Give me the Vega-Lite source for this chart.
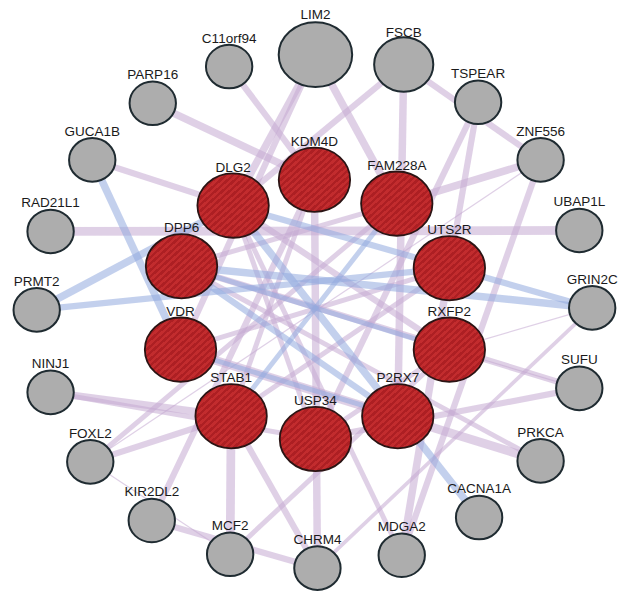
{
  "$schema": "https://vega.github.io/schema/vega-lite/v6.json",
  "width": 620,
  "height": 594,
  "padding": 0,
  "autosize": {"type": "fit", "contains": "padding"},
  "background": "white",
  "config": {"view": {"stroke": null}},
  "datasets": {
    "nodes": [
      {"id": "LIM2", "x": 318, "y": 55, "kind": "top"},
      {"id": "C11orf94", "x": 231, "y": 67, "kind": "related"},
      {"id": "FSCB", "x": 407, "y": 65, "kind": "high"},
      {"id": "PARP16", "x": 154, "y": 104, "kind": "related"},
      {"id": "TSPEAR", "x": 482, "y": 103, "kind": "related"},
      {"id": "GUCA1B", "x": 93, "y": 161, "kind": "related"},
      {"id": "ZNF556", "x": 545, "y": 161, "kind": "related"},
      {"id": "RAD21L1", "x": 51, "y": 233, "kind": "related"},
      {"id": "UBAP1L", "x": 584, "y": 232, "kind": "related"},
      {"id": "PRMT2", "x": 37, "y": 312, "kind": "related"},
      {"id": "GRIN2C", "x": 597, "y": 310, "kind": "related"},
      {"id": "NINJ1", "x": 51, "y": 395, "kind": "related"},
      {"id": "SUFU", "x": 584, "y": 391, "kind": "related"},
      {"id": "FOXL2", "x": 91, "y": 465, "kind": "related"},
      {"id": "PRKCA", "x": 545, "y": 464, "kind": "related"},
      {"id": "KIR2DL2", "x": 153, "y": 524, "kind": "related"},
      {"id": "CACNA1A", "x": 483, "y": 521, "kind": "related"},
      {"id": "MCF2", "x": 232, "y": 558, "kind": "related"},
      {"id": "CHRM4", "x": 320, "y": 572, "kind": "related"},
      {"id": "MDGA2", "x": 405, "y": 559, "kind": "related"},
      {"id": "KDM4D", "x": 317, "y": 181, "kind": "query"},
      {"id": "DLG2", "x": 235, "y": 207, "kind": "query"},
      {"id": "FAM228A", "x": 400, "y": 205, "kind": "query"},
      {"id": "DPP6", "x": 183, "y": 268, "kind": "query"},
      {"id": "UTS2R", "x": 453, "y": 270, "kind": "query"},
      {"id": "VDR", "x": 182, "y": 352, "kind": "query"},
      {"id": "RXFP2", "x": 453, "y": 352, "kind": "query"},
      {"id": "STAB1", "x": 233, "y": 419, "kind": "query"},
      {"id": "P2RX7", "x": 401, "y": 419, "kind": "query"},
      {"id": "USP34", "x": 318, "y": 442, "kind": "query"}
    ],
    "edges": [
      {"source": "LIM2", "target": "DLG2", "type": "Co-expression", "weight": 6},
      {"source": "LIM2", "target": "VDR", "type": "Co-expression", "weight": 5},
      {"source": "LIM2", "target": "FAM228A", "type": "Co-expression", "weight": 6},
      {"source": "C11orf94", "target": "KDM4D", "type": "Co-expression", "weight": 5},
      {"source": "PARP16", "target": "KDM4D", "type": "Co-expression", "weight": 6},
      {"source": "GUCA1B", "target": "DLG2", "type": "Co-expression", "weight": 5},
      {"source": "RAD21L1", "target": "UBAP1L", "type": "Co-expression", "weight": 7},
      {"source": "FSCB", "target": "DLG2", "type": "Co-expression", "weight": 5},
      {"source": "FSCB", "target": "P2RX7", "type": "Co-expression", "weight": 6},
      {"source": "FSCB", "target": "ZNF556", "type": "Co-expression", "weight": 5},
      {"source": "TSPEAR", "target": "USP34", "type": "Co-expression", "weight": 5},
      {"source": "TSPEAR", "target": "UTS2R", "type": "Co-expression", "weight": 5},
      {"source": "ZNF556", "target": "FAM228A", "type": "Co-expression", "weight": 6},
      {"source": "ZNF556", "target": "MDGA2", "type": "Co-expression", "weight": 5},
      {"source": "NINJ1", "target": "STAB1", "type": "Co-expression", "weight": 6},
      {"source": "NINJ1", "target": "USP34", "type": "Co-expression", "weight": 4},
      {"source": "FOXL2", "target": "STAB1", "type": "Co-expression", "weight": 5},
      {"source": "FOXL2", "target": "FAM228A", "type": "Co-expression", "weight": 4},
      {"source": "KIR2DL2", "target": "KDM4D", "type": "Co-expression", "weight": 5},
      {"source": "KIR2DL2", "target": "CHRM4", "type": "Co-expression", "weight": 5},
      {"source": "MCF2", "target": "STAB1", "type": "Co-expression", "weight": 7},
      {"source": "MCF2", "target": "RXFP2", "type": "Co-expression", "weight": 4},
      {"source": "STAB1", "target": "CHRM4", "type": "Co-expression", "weight": 5},
      {"source": "KDM4D", "target": "CHRM4", "type": "Co-expression", "weight": 6},
      {"source": "GRIN2C", "target": "CHRM4", "type": "Co-expression", "weight": 3},
      {"source": "SUFU", "target": "DPP6", "type": "Co-expression", "weight": 5},
      {"source": "SUFU", "target": "USP34", "type": "Co-expression", "weight": 5},
      {"source": "PRKCA", "target": "VDR", "type": "Co-expression", "weight": 7},
      {"source": "PRKCA", "target": "DPP6", "type": "Co-expression", "weight": 4},
      {"source": "MDGA2", "target": "UTS2R", "type": "Co-expression", "weight": 6},
      {"source": "MDGA2", "target": "DLG2", "type": "Co-expression", "weight": 4},
      {"source": "DLG2", "target": "RXFP2", "type": "Co-expression", "weight": 5},
      {"source": "VDR", "target": "UTS2R", "type": "Co-expression", "weight": 4},
      {"source": "KDM4D", "target": "STAB1", "type": "Co-expression", "weight": 4},
      {"source": "FAM228A", "target": "DPP6", "type": "Co-expression", "weight": 4},
      {"source": "UTS2R", "target": "STAB1", "type": "Co-expression", "weight": 4},
      {"source": "USP34", "target": "RXFP2", "type": "Co-expression", "weight": 4},
      {"source": "DLG2", "target": "USP34", "type": "Co-expression", "weight": 4},
      {"source": "ZNF556", "target": "FOXL2", "type": "Co-expression", "weight": 1},
      {"source": "FOXL2", "target": "MCF2", "type": "Co-expression", "weight": 1},
      {"source": "RXFP2", "target": "GRIN2C", "type": "Co-expression", "weight": 1},
      {"source": "RXFP2", "target": "SUFU", "type": "Co-expression", "weight": 1},
      {"source": "GUCA1B", "target": "VDR", "type": "Co-localization", "weight": 6},
      {"source": "PRMT2", "target": "DLG2", "type": "Co-localization", "weight": 6},
      {"source": "PRMT2", "target": "UTS2R", "type": "Co-localization", "weight": 5},
      {"source": "DPP6", "target": "GRIN2C", "type": "Co-localization", "weight": 6},
      {"source": "DLG2", "target": "GRIN2C", "type": "Co-localization", "weight": 5},
      {"source": "DLG2", "target": "CACNA1A", "type": "Co-localization", "weight": 6},
      {"source": "DPP6", "target": "RXFP2", "type": "Co-localization", "weight": 4},
      {"source": "FAM228A", "target": "STAB1", "type": "Co-localization", "weight": 4},
      {"source": "DPP6", "target": "P2RX7", "type": "Co-localization", "weight": 5},
      {"source": "VDR", "target": "P2RX7", "type": "Co-localization", "weight": 4}
    ]
  },
  "layer": [
    {
      "data": {"name": "edges"},
      "transform": [
        {"lookup": "source", "from": {"data": {"name": "nodes"}, "key": "id", "fields": ["x", "y"]}, "as": ["sx", "sy"]},
        {"lookup": "target", "from": {"data": {"name": "nodes"}, "key": "id", "fields": ["x", "y"]}, "as": ["tx", "ty"]}
      ],
      "mark": {"type": "rule", "opacity": 0.55, "strokeCap": "butt"},
      "encoding": {
        "x": {"field": "sx", "type": "quantitative", "scale": {"domain": [0, 620], "nice": false, "zero": false}, "axis": null},
        "y": {"field": "sy", "type": "quantitative", "scale": {"domain": [0, 594], "nice": false, "zero": false, "reverse": true}, "axis": null},
        "x2": {"field": "tx"},
        "y2": {"field": "ty"},
        "color": {"field": "type", "type": "nominal", "scale": {"domain": ["Co-expression", "Co-localization"], "range": ["#c5aad2", "#92aadf"]}, "legend": null},
        "strokeWidth": {"field": "weight", "type": "quantitative", "scale": {"domain": [1, 8], "range": [1.2, 10]}, "legend": null}
      }
    },
    {
      "data": {"name": "nodes"},
      "transform": [{"filter": "datum.kind == 'related'"}],
      "mark": {"type": "point", "shape": "M-1,0A1,0.94,0,1,1,1,0A1,0.94,0,1,1,-1,0Z", "size": 2150, "filled": true, "fill": "#adadad", "fillOpacity": 1, "stroke": "#1f2b31", "strokeWidth": 2, "opacity": 1},
      "encoding": {
        "x": {"field": "x", "type": "quantitative"},
        "y": {"field": "y", "type": "quantitative"}
      }
    },
    {
      "data": {"name": "nodes"},
      "transform": [{"filter": "datum.kind == 'top'"}],
      "mark": {"type": "point", "shape": "M-1,0A1,0.88,0,1,1,1,0A1,0.88,0,1,1,-1,0Z", "size": 5400, "filled": true, "fill": "#adadad", "fillOpacity": 1, "stroke": "#1f2b31", "strokeWidth": 2, "opacity": 1},
      "encoding": {
        "x": {"field": "x", "type": "quantitative"},
        "y": {"field": "y", "type": "quantitative"}
      }
    },
    {
      "data": {"name": "nodes"},
      "transform": [{"filter": "datum.kind == 'high'"}],
      "mark": {"type": "point", "shape": "M-1,0A1,0.92,0,1,1,1,0A1,0.92,0,1,1,-1,0Z", "size": 3500, "filled": true, "fill": "#adadad", "fillOpacity": 1, "stroke": "#1f2b31", "strokeWidth": 2, "opacity": 1},
      "encoding": {
        "x": {"field": "x", "type": "quantitative"},
        "y": {"field": "y", "type": "quantitative"}
      }
    },
    {
      "data": {"name": "nodes"},
      "transform": [{"filter": "datum.kind == 'query'"}],
      "mark": {
        "type": "point",
        "shape": "M-1,0A1,0.9,0,1,1,1,0A1,0.9,0,1,1,-1,0Z",
        "size": 5100,
        "filled": true,
        "fillOpacity": 1,
        "opacity": 1,
        "stroke": "#2b1414",
        "strokeWidth": 1.8,
        "fill": {
          "gradient": "linear", "x1": 0, "y1": 0, "x2": 1, "y2": 1,
          "stops": [
            {"offset": 0, "color": "#ad1f23"}, {"offset": 0.025, "color": "#ad1f23"},
            {"offset": 0.025, "color": "#c22c2e"}, {"offset": 0.05, "color": "#c22c2e"},
            {"offset": 0.05, "color": "#ad1f23"}, {"offset": 0.075, "color": "#ad1f23"},
            {"offset": 0.075, "color": "#c22c2e"}, {"offset": 0.1, "color": "#c22c2e"},
            {"offset": 0.1, "color": "#ad1f23"}, {"offset": 0.125, "color": "#ad1f23"},
            {"offset": 0.125, "color": "#c22c2e"}, {"offset": 0.15, "color": "#c22c2e"},
            {"offset": 0.15, "color": "#ad1f23"}, {"offset": 0.175, "color": "#ad1f23"},
            {"offset": 0.175, "color": "#c22c2e"}, {"offset": 0.2, "color": "#c22c2e"},
            {"offset": 0.2, "color": "#ad1f23"}, {"offset": 0.225, "color": "#ad1f23"},
            {"offset": 0.225, "color": "#c22c2e"}, {"offset": 0.25, "color": "#c22c2e"},
            {"offset": 0.25, "color": "#ad1f23"}, {"offset": 0.275, "color": "#ad1f23"},
            {"offset": 0.275, "color": "#c22c2e"}, {"offset": 0.3, "color": "#c22c2e"},
            {"offset": 0.3, "color": "#ad1f23"}, {"offset": 0.325, "color": "#ad1f23"},
            {"offset": 0.325, "color": "#c22c2e"}, {"offset": 0.35, "color": "#c22c2e"},
            {"offset": 0.35, "color": "#ad1f23"}, {"offset": 0.375, "color": "#ad1f23"},
            {"offset": 0.375, "color": "#c22c2e"}, {"offset": 0.4, "color": "#c22c2e"},
            {"offset": 0.4, "color": "#ad1f23"}, {"offset": 0.425, "color": "#ad1f23"},
            {"offset": 0.425, "color": "#c22c2e"}, {"offset": 0.45, "color": "#c22c2e"},
            {"offset": 0.45, "color": "#ad1f23"}, {"offset": 0.475, "color": "#ad1f23"},
            {"offset": 0.475, "color": "#c22c2e"}, {"offset": 0.5, "color": "#c22c2e"},
            {"offset": 0.5, "color": "#ad1f23"}, {"offset": 0.525, "color": "#ad1f23"},
            {"offset": 0.525, "color": "#c22c2e"}, {"offset": 0.55, "color": "#c22c2e"},
            {"offset": 0.55, "color": "#ad1f23"}, {"offset": 0.575, "color": "#ad1f23"},
            {"offset": 0.575, "color": "#c22c2e"}, {"offset": 0.6, "color": "#c22c2e"},
            {"offset": 0.6, "color": "#ad1f23"}, {"offset": 0.625, "color": "#ad1f23"},
            {"offset": 0.625, "color": "#c22c2e"}, {"offset": 0.65, "color": "#c22c2e"},
            {"offset": 0.65, "color": "#ad1f23"}, {"offset": 0.675, "color": "#ad1f23"},
            {"offset": 0.675, "color": "#c22c2e"}, {"offset": 0.7, "color": "#c22c2e"},
            {"offset": 0.7, "color": "#ad1f23"}, {"offset": 0.725, "color": "#ad1f23"},
            {"offset": 0.725, "color": "#c22c2e"}, {"offset": 0.75, "color": "#c22c2e"},
            {"offset": 0.75, "color": "#ad1f23"}, {"offset": 0.775, "color": "#ad1f23"},
            {"offset": 0.775, "color": "#c22c2e"}, {"offset": 0.8, "color": "#c22c2e"},
            {"offset": 0.8, "color": "#ad1f23"}, {"offset": 0.825, "color": "#ad1f23"},
            {"offset": 0.825, "color": "#c22c2e"}, {"offset": 0.85, "color": "#c22c2e"},
            {"offset": 0.85, "color": "#ad1f23"}, {"offset": 0.875, "color": "#ad1f23"},
            {"offset": 0.875, "color": "#c22c2e"}, {"offset": 0.9, "color": "#c22c2e"},
            {"offset": 0.9, "color": "#ad1f23"}, {"offset": 0.925, "color": "#ad1f23"},
            {"offset": 0.925, "color": "#c22c2e"}, {"offset": 0.95, "color": "#c22c2e"},
            {"offset": 0.95, "color": "#ad1f23"}, {"offset": 0.975, "color": "#ad1f23"},
            {"offset": 0.975, "color": "#c22c2e"}, {"offset": 1, "color": "#c22c2e"}
          ]
        }
      },
      "encoding": {
        "x": {"field": "x", "type": "quantitative"},
        "y": {"field": "y", "type": "quantitative"}
      }
    },
    {
      "data": {"name": "nodes"},
      "transform": [{"filter": "datum.kind == 'query'"}],
      "mark": {"type": "text", "baseline": "alphabetic", "align": "center", "dy": -34, "font": "Liberation Sans", "fontSize": 13.5, "fill": "#1a1a1a"},
      "encoding": {"x": {"field": "x", "type": "quantitative"}, "y": {"field": "y", "type": "quantitative"}, "text": {"field": "id"}}
    },
    {
      "data": {"name": "nodes"},
      "transform": [{"filter": "datum.kind == 'related'"}],
      "mark": {"type": "text", "baseline": "alphabetic", "align": "center", "dy": -24, "font": "Liberation Sans", "fontSize": 13.5, "fill": "#1a1a1a"},
      "encoding": {"x": {"field": "x", "type": "quantitative"}, "y": {"field": "y", "type": "quantitative"}, "text": {"field": "id"}}
    },
    {
      "data": {"name": "nodes"},
      "transform": [{"filter": "datum.kind == 'top'"}],
      "mark": {"type": "text", "baseline": "alphabetic", "align": "center", "dy": -36, "font": "Liberation Sans", "fontSize": 13.5, "fill": "#1a1a1a"},
      "encoding": {"x": {"field": "x", "type": "quantitative"}, "y": {"field": "y", "type": "quantitative"}, "text": {"field": "id"}}
    },
    {
      "data": {"name": "nodes"},
      "transform": [{"filter": "datum.kind == 'high'"}],
      "mark": {"type": "text", "baseline": "alphabetic", "align": "center", "dy": -28, "font": "Liberation Sans", "fontSize": 13.5, "fill": "#1a1a1a"},
      "encoding": {"x": {"field": "x", "type": "quantitative"}, "y": {"field": "y", "type": "quantitative"}, "text": {"field": "id"}}
    }
  ]
}
